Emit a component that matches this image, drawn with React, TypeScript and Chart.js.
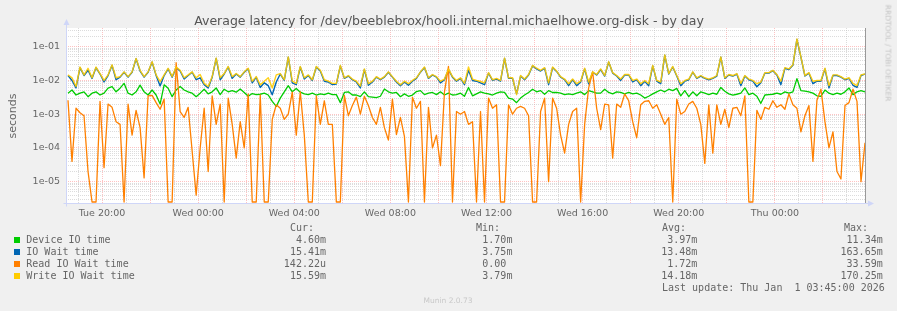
import React, { useEffect, useRef } from "react";
import { Chart, registerables } from "chart.js";
Chart.register(...registerables);

// ---- time axis (hours since Tue 00:00) ----
const X_MIN = 18.5; // Tue 18:30
const X_MAX = 51.75; // Thu 03:45 (last update)
const STEP_H = 10 / 60; // one sample every 10 minutes
const X_GRID_HOURS = [19, 20, 21, 22, 23, 24, 25, 26, 27, 28, 29, 30, 31, 32, 33, 34, 35, 36, 37, 38, 39, 40, 41, 42, 43, 44, 45, 46, 47, 48, 49, 50, 51];
const DAY_NAMES = ["Tue", "Wed", "Thu"];

// ---- y axis (seconds, log) ----
const Y_MIN = 2.26e-6;
const Y_MAX = 0.358;
const Y_FLOOR = 2.5e-6; // where zero values are drawn (bottom edge)
const Y_EXPONENTS = [-6, -5, -4, -3, -2, -1];
const Y_MANTISSAS = [1, 2, 3, 4, 5, 6, 7, 8, 9];

// ---- series values, in milliseconds ----
const deviceIoMs = [
  4.2, 5.2, 3.7, 4.2, 4.6, 3.3, 4.2, 4.6, 3.7, 4.2,
  5.9, 6.6, 4.6, 5.9, 8.2, 4.2, 3.7, 4.6, 7.3, 4.6,
  3.7, 5.2, 3.7, 2.0, 7.4, 5.9, 3.3, 5.2, 6.6, 5.2,
  4.6, 4.2, 3.3, 4.2, 5.5, 4.0, 4.6, 6.0, 3.8, 5.5,
  4.6, 5.0, 4.5, 5.6, 4.4, 3.4, 4.1, 3.8, 3.9, 4.2,
  3.7, 2.4, 1.7, 3.0, 4.6, 7.0, 4.6, 5.8, 4.5, 4.0,
  3.8, 4.2, 3.7, 4.0, 3.8, 4.2, 3.8, 3.8, 2.2, 4.4,
  4.6, 3.7, 3.7, 3.3, 4.6, 3.3, 3.2, 3.1, 3.4, 5.6,
  4.6, 4.2, 4.4, 3.3, 4.0, 3.4, 3.7, 4.7, 5.0, 3.8,
  4.2, 4.4, 3.8, 4.6, 3.7, 4.2, 3.7, 3.8, 4.2, 3.4,
  6.2, 3.5, 4.0, 4.6, 4.2, 4.0, 3.7, 4.2, 4.6, 4.4,
  3.0, 2.8, 2.2, 3.0, 3.7, 4.4, 5.5, 4.6, 5.0, 3.9,
  5.0, 4.4, 4.4, 4.2, 3.8, 4.0, 3.8, 4.2, 4.6, 3.8,
  5.0, 4.6, 4.2, 4.2, 5.5, 4.4, 4.0, 4.6, 4.4, 4.0,
  4.4, 4.0, 4.2, 3.7, 3.0, 3.4, 4.0, 4.6, 5.2, 4.6,
  5.5, 5.0, 5.8, 3.5, 5.0, 3.3, 4.6, 3.5, 4.6, 4.2,
  3.8, 4.2, 3.9, 6.2, 4.8, 4.0, 3.7, 3.9, 4.2, 6.0,
  3.8, 4.2, 3.4, 2.1, 3.7, 3.8, 3.9, 4.2, 3.9, 4.6,
  4.2, 4.6, 11.34, 5.0, 4.8, 4.6, 4.2, 3.5, 3.4, 5.2,
  4.2, 3.8, 4.2, 3.9, 4.6, 6.0, 3.8, 4.6, 5.0, 4.6,
];

const ioWaitMs = [
  14, 10, 6.0, 24, 14, 20, 11.5, 24, 15.5, 9,
  14, 28, 10.5, 12.5, 17.5, 12.5, 17.5, 44, 19, 12.5,
  17.5, 35, 14, 6.9, 14, 22, 12.5, 24, 19, 11,
  14, 17.5, 10.5, 12, 7.5, 6.0, 12.5, 45, 10.5, 15.5,
  25, 11.5, 15.5, 12.5, 17.5, 22, 8.5, 12.5, 6.2, 8.5,
  7, 3.75, 9, 15.5, 10, 49, 8.5, 7.5, 25, 11,
  14, 10, 25, 19, 9.5, 9, 7.5, 7.8, 27, 11.5,
  13.5, 10.5, 9, 6, 21, 7.2, 9, 12.5, 10.5, 12.5,
  17.5, 12.5, 9, 7, 9, 7.2, 9.5, 11.5, 17.5, 24,
  11.5, 14.5, 12.5, 8.5, 10.5, 21, 12.5, 9.5, 11.5, 7.5,
  20, 10, 9.5, 8.5, 7.5, 16.5, 10, 11, 9.5, 45,
  11.5, 11.5, 4.0, 13.5, 10.5, 14.5, 27, 22, 19, 23,
  7.5, 24, 18.5, 12.5, 10.5, 7, 10.5, 7, 9, 22,
  8, 17.5, 14.5, 21, 13.5, 35, 16.5, 13.5, 10, 14.5,
  14.5, 9, 10.5, 7, 9.5, 7, 27, 9.5, 8, 56,
  15.5, 25, 13.5, 7, 9.5, 10.5, 17.5, 11.5, 13.5, 11.5,
  10.5, 11.5, 13.5, 49, 11.5, 14.5, 13.5, 15.5, 7, 13.5,
  10.5, 9.5, 6.5, 8.5, 16.5, 16.5, 19.5, 14.5, 7.5, 23,
  21, 28, 163.65, 49, 13.5, 16.5, 8, 9.5, 9.5, 22,
  6, 14, 14, 12.5, 10.5, 11.5, 7.2, 6.2, 14, 15.41,
];

const readIoWaitMs = [
  2.6, 0.04, 1.5, 1.1, 0.9, 0.02, 0, 0, 2.4, 0.026,
  2.0, 1.6, 0.6, 0.5, 0, 2.0, 0.24, 1.3, 0.4, 0.013,
  3.5, 3.6, 2.2, 1.4, 2.8, 0, 0, 33.59, 1.2, 0.8,
  1.6, 0.08, 0.004, 0.1, 1.5, 0.02, 3.5, 0.5, 2.0, 0,
  3.0, 0.5, 0.05, 0.6, 0.1, 4.0, 0, 0, 3.7, 0,
  0, 0.7, 1.9, 1.5, 0.7, 1.0, 4.5, 0.24, 4.6, 0.24,
  0, 0, 3.5, 0.5, 2.5, 0.5, 0.5, 0, 0, 3.6,
  0.9, 1.8, 3.2, 1.0, 3.4, 1.8, 0.8, 0.5, 1.6, 0.4,
  0.17, 2.8, 0.25, 0.8, 0.22, 0, 3.2, 1.5, 2.4, 0,
  1.6, 0.1, 0.24, 0.03, 4.6, 26, 0, 1.2, 1.0, 1.2,
  0.5, 0.6, 0, 1.2, 0, 3.0, 1.5, 1.9, 0, 0,
  1.9, 1.0, 1.5, 1.7, 1.5, 0.9, 0, 0, 1.2, 3.0,
  0.01, 3.0, 1.5, 0.24, 0.07, 0.5, 1.2, 1.5, 0, 0.5,
  6, 18, 1.5, 0.35, 2.0, 1.9, 0.05, 2.0, 1.6, 4.0,
  2.5, 0.6, 0.2, 1.9, 2.4, 2.5, 1.5, 1.9, 1.0, 0.5,
  0.8, 0, 2.8, 1.0, 1.2, 2.0, 2.4, 1.5, 0.5, 0.035,
  1.9, 0.07, 1.9, 0.5, 1.4, 0.4, 1.5, 1.6, 0.9, 3.5,
  0, 0, 1.3, 0.7, 1.6, 1.4, 2.5, 1.6, 1.9, 1.4,
  4.0, 1.9, 1.5, 0.3, 0.9, 1.8, 0.04, 2.6, 5.5, 0.6,
  0.1, 0.3, 0.02, 0.012, 1.8, 2.2, 5.5, 2.4, 0.01, 0.14222,
];

const writeIoWaitMs = [
  14.6, 12, 6.6, 25, 14.6, 23, 12, 25, 16, 10,
  14.6, 29, 12, 13, 18, 13, 18, 45, 20, 13,
  18, 36, 14.6, 9.2, 14.6, 23, 13, 25, 20, 12,
  14.6, 18, 12, 15, 8.2, 6.6, 13, 46, 12, 16,
  26, 13, 16, 13, 18, 23, 9.5, 13, 7.4, 9.5,
  12, 6, 14.6, 16, 10.5, 50, 9.5, 8.2, 26, 12,
  14.6, 10.5, 26, 20, 10.5, 9.5, 8.2, 8.2, 28, 12,
  14, 11, 9.5, 6.8, 22, 8, 9.5, 13, 11, 13,
  18, 13, 9.5, 7.5, 9.5, 8, 10, 12, 18, 25,
  12, 15, 13, 9.5, 11, 22, 13, 10, 12, 8.2,
  25, 11, 10, 9.3, 8.5, 17, 10.5, 11.5, 10, 46,
  12, 12, 3.79, 14, 11, 15, 28, 23, 20, 24,
  8.5, 25, 19, 13, 11, 8, 11, 8, 9.5, 23,
  9, 18, 15, 22, 14, 36, 17, 14, 11, 15,
  15, 10, 11, 8, 10, 8, 28, 10, 9, 57,
  16, 26, 14, 8, 10, 11, 18, 12, 14, 12,
  11, 12, 14, 50, 12, 15, 14, 16, 8.2, 14,
  11, 10, 8, 9, 17, 17, 20, 15, 9.5, 24,
  22, 29, 170.25, 50, 14, 17, 9.5, 10, 10, 23,
  7, 14.6, 14.6, 13, 11, 12, 8.2, 7, 14.6, 15.59,
];

// ---- legend ----
const LEGEND_LABELS = ["Device IO time", "IO Wait time", "Read IO Wait time", "Write IO Wait time"];
const LEGEND_COLORS = ["#00CC00", "#0066B3", "#FF8000", "#FFCC00"];
const CUR = ["4.60m", "15.41m", "142.22u", "15.59m"];
const MIN = ["1.70m", "3.75m", "0.00", "3.79m"];
const AVG = ["3.97m", "13.48m", "1.72m", "14.18m"];
const MAX = ["11.34m", "163.65m", "33.59m", "170.25m"];
const LAST_UPDATE = "Last update: Thu Jan  1 03:45:00 2026";
const TITLE = "Average latency for /dev/beeblebrox/hooli.internal.michaelhowe.org-disk - by day";

const GRID = "rgba(192,192,192,0.55)";
const MGRID = "rgba(255,144,144,0.55)";
const AXIS = "#CFD6F8";
const FONT = "#666666";

function toPoints(ms: number[]) {
  const first = X_MAX - (ms.length - 1) * STEP_H;
  return ms.map((v, i) => ({ x: first + i * STEP_H, y: Math.max(v / 1000, Y_FLOOR) }));
}

const framePlugin = {
  id: "frame",
  beforeDraw(chart: any) {
    const { ctx, chartArea: a } = chart;
    ctx.save();
    ctx.fillStyle = "#FFFFFF";
    ctx.fillRect(a.left, a.top, a.right - a.left, a.bottom - a.top);
    ctx.restore();
  },
  afterDraw(chart: any) {
    const { ctx, chartArea: a } = chart;
    const lx = Math.round(a.left) + 0.5;
    const by = Math.floor(a.bottom) + 0.5;
    ctx.save();
    ctx.lineWidth = 1;
    ctx.strokeStyle = "#999999";
    ctx.beginPath();
    ctx.moveTo(Math.round(a.right) + 0.5, a.top);
    ctx.lineTo(Math.round(a.right) + 0.5, by);
    ctx.stroke();
    ctx.strokeStyle = AXIS;
    ctx.fillStyle = AXIS;
    ctx.beginPath();
    ctx.moveTo(lx, by + 3);
    ctx.lineTo(lx, a.top - 5);
    ctx.moveTo(lx - 3, by);
    ctx.lineTo(a.right + 4, by);
    ctx.stroke();
    ctx.beginPath();
    ctx.moveTo(lx - 3, a.top - 3);
    ctx.lineTo(lx + 3, a.top - 3);
    ctx.lineTo(lx, a.top - 9);
    ctx.closePath();
    ctx.fill();
    ctx.beginPath();
    ctx.moveTo(a.right + 3, by - 3);
    ctx.lineTo(a.right + 3, by + 3);
    ctx.lineTo(a.right + 9, by);
    ctx.closePath();
    ctx.fill();
    ctx.restore();
  },
};

type TxtProps = { x: number; y: number; s: string; size: number; mono?: boolean; color?: string; anchor?: "start" | "end" | "middle" };
function Txt({ x, y, s, size, mono, color, anchor }: TxtProps) {
  const style: any = {
    position: "absolute",
    top: y - 0.928 * size,
    fontFamily: mono ? '"DejaVu Sans Mono", monospace' : '"DejaVu Sans", sans-serif',
    fontSize: size,
    lineHeight: "normal",
    color: color || FONT,
    whiteSpace: "pre",
  };
  if (anchor === "end") style.right = 897 - x;
  else if (anchor === "middle") {
    style.left = x;
    style.transform = "translateX(-50%)";
  } else style.left = x;
  return <div style={style}>{s}</div>;
}

export default function App() {
  const ref = useRef<HTMLCanvasElement>(null);
  useEffect(() => {
    const canvas = ref.current!;
    const common = { pointRadius: 0, tension: 0, borderJoinStyle: "round" as const, fill: false };
    const yTicks: { value: number; major: boolean }[] = [];
    for (const e of Y_EXPONENTS) {
      for (const m of Y_MANTISSAS) {
        const v = m * Math.pow(10, e);
        if (v >= Y_MIN && v <= Y_MAX) yTicks.push({ value: v, major: m === 1 });
      }
    }
    const chart = new Chart(canvas, {
      type: "line",
      data: {
        datasets: [
          { label: "Write IO Wait time", data: toPoints(writeIoWaitMs), borderColor: "rgba(255,204,0,0.9)", borderWidth: 1.4, ...common },
          { label: "Read IO Wait time", data: toPoints(readIoWaitMs), borderColor: "#FF8000", borderWidth: 1.3, ...common },
          { label: "IO Wait time", data: toPoints(ioWaitMs), borderColor: "#0066B3", borderWidth: 1.4, ...common },
          { label: "Device IO time", data: toPoints(deviceIoMs), borderColor: "#00CC00", borderWidth: 1.3, ...common },
        ],
      },
      options: {
        animation: false,
        responsive: false,
        devicePixelRatio: 1,
        events: [],
        layout: { autoPadding: false, padding: { left: 0, right: 32, top: 28, bottom: 87.5 } } as any,
        plugins: { legend: { display: false }, tooltip: { enabled: false }, title: { display: false } },
        scales: {
          x: {
            type: "linear",
            position: "bottom",
            min: X_MIN,
            max: X_MAX,
            bounds: "data",
            afterBuildTicks: (s: any) => {
              s.ticks = X_GRID_HOURS.map((h) => ({ value: h, major: h % 2 === 0 }));
            },
            afterFit: (s: any) => {
              s.height = 20;
            },
            grid: {
              color: (c: any) => (c.tick && c.tick.major ? MGRID : GRID),
              lineWidth: 1,
              drawTicks: false,
            },
            border: { display: false, dash: [1, 1] },
            ticks: {
              autoSkip: false,
              maxRotation: 0,
              minRotation: 0,
              padding: 4,
              color: FONT,
              font: { family: "DejaVu Sans", size: 9.5 },
              callback: (v: any) => {
                const h = Number(v);
                if (h % 4 !== 0) return "";
                const day = DAY_NAMES[Math.floor(h / 24)];
                const hh = String(h % 24).padStart(2, "0");
                return day + " " + hh + ":00";
              },
            },
          } as any,
          y: {
            type: "logarithmic",
            position: "left",
            min: Y_MIN,
            max: Y_MAX,
            bounds: "data",
            afterBuildTicks: (s: any) => {
              s.ticks = yTicks.map((t) => ({ ...t }));
            },
            afterFit: (s: any) => {
              s.width = 66;
            },
            grid: {
              color: (c: any) => (c.tick && c.tick.major ? MGRID : GRID),
              lineWidth: 1,
              drawTicks: false,
            },
            border: { display: false, dash: [1, 1] },
            ticks: {
              autoSkip: false,
              padding: 6,
              color: FONT,
              font: { family: "DejaVu Sans", size: 9.5 },
              callback: (v: any, i: number, ticks: any[]) => {
                if (!ticks[i] || !ticks[i].major) return "";
                const e = Math.round(Math.log10(Number(v)));
                return "1e-" + String(-e).padStart(2, "0");
              },
            },
          } as any,
        },
      },
      plugins: [framePlugin],
    });
    return () => chart.destroy();
  }, []);

  const rows = [243, 255, 267, 279];
  return (
    <div style={{ position: "fixed", left: 0, top: 0, width: 897, height: 311, background: "#F0F0F0", overflow: "hidden" }}>
      <canvas ref={ref} width={897} height={311} style={{ position: "absolute", left: 0, top: 0, width: 897, height: 311 }} />
      <Txt x={449} y={25} s={TITLE} size={12.5} anchor="middle" color="#555555" />
      <div
        style={{
          position: "absolute",
          left: 11.5,
          top: 115.5,
          transform: "translate(-50%,-50%) rotate(-90deg)",
          fontFamily: '"DejaVu Sans", sans-serif',
          fontSize: 11,
          lineHeight: "normal",
          color: FONT,
          whiteSpace: "pre",
        }}
      >
        seconds
      </div>
      <div
        style={{
          position: "absolute",
          left: 887.6,
          top: 53,
          transform: "translate(-50%,-50%) rotate(90deg)",
          fontFamily: '"DejaVu Sans", sans-serif',
          fontSize: 7.5,
          lineHeight: "normal",
          color: "#C4C4C4",
          whiteSpace: "pre",
        }}
      >
        RRDTOOL / TOBI OETIKER
      </div>
      <Txt x={290} y={231} s="Cur:" size={10} mono />
      <Txt x={476} y={231} s="Min:" size={10} mono />
      <Txt x={662} y={231} s="Avg:" size={10} mono />
      <Txt x={844} y={231} s="Max:" size={10} mono />
      {LEGEND_LABELS.map((lab, i) => (
        <React.Fragment key={lab}>
          <div style={{ position: "absolute", left: 14, top: rows[i] - 6, width: 6, height: 6, background: LEGEND_COLORS[i] }} />
          <Txt x={26.3} y={rows[i]} s={lab} size={10} mono />
          <Txt x={326} y={rows[i]} s={CUR[i]} size={10} mono anchor="end" />
          <Txt x={482.3} y={rows[i]} s={MIN[i]} size={10} mono />
          <Txt x={697.3} y={rows[i]} s={AVG[i]} size={10} mono anchor="end" />
          <Txt x={882.7} y={rows[i]} s={MAX[i]} size={10} mono anchor="end" />
        </React.Fragment>
      ))}
      <Txt x={662} y={291} s={LAST_UPDATE} size={10} mono />
      <Txt x={448} y={302.5} s="Munin 2.0.73" size={7.5} anchor="middle" color="#C8C8C8" />
    </div>
  );
}
